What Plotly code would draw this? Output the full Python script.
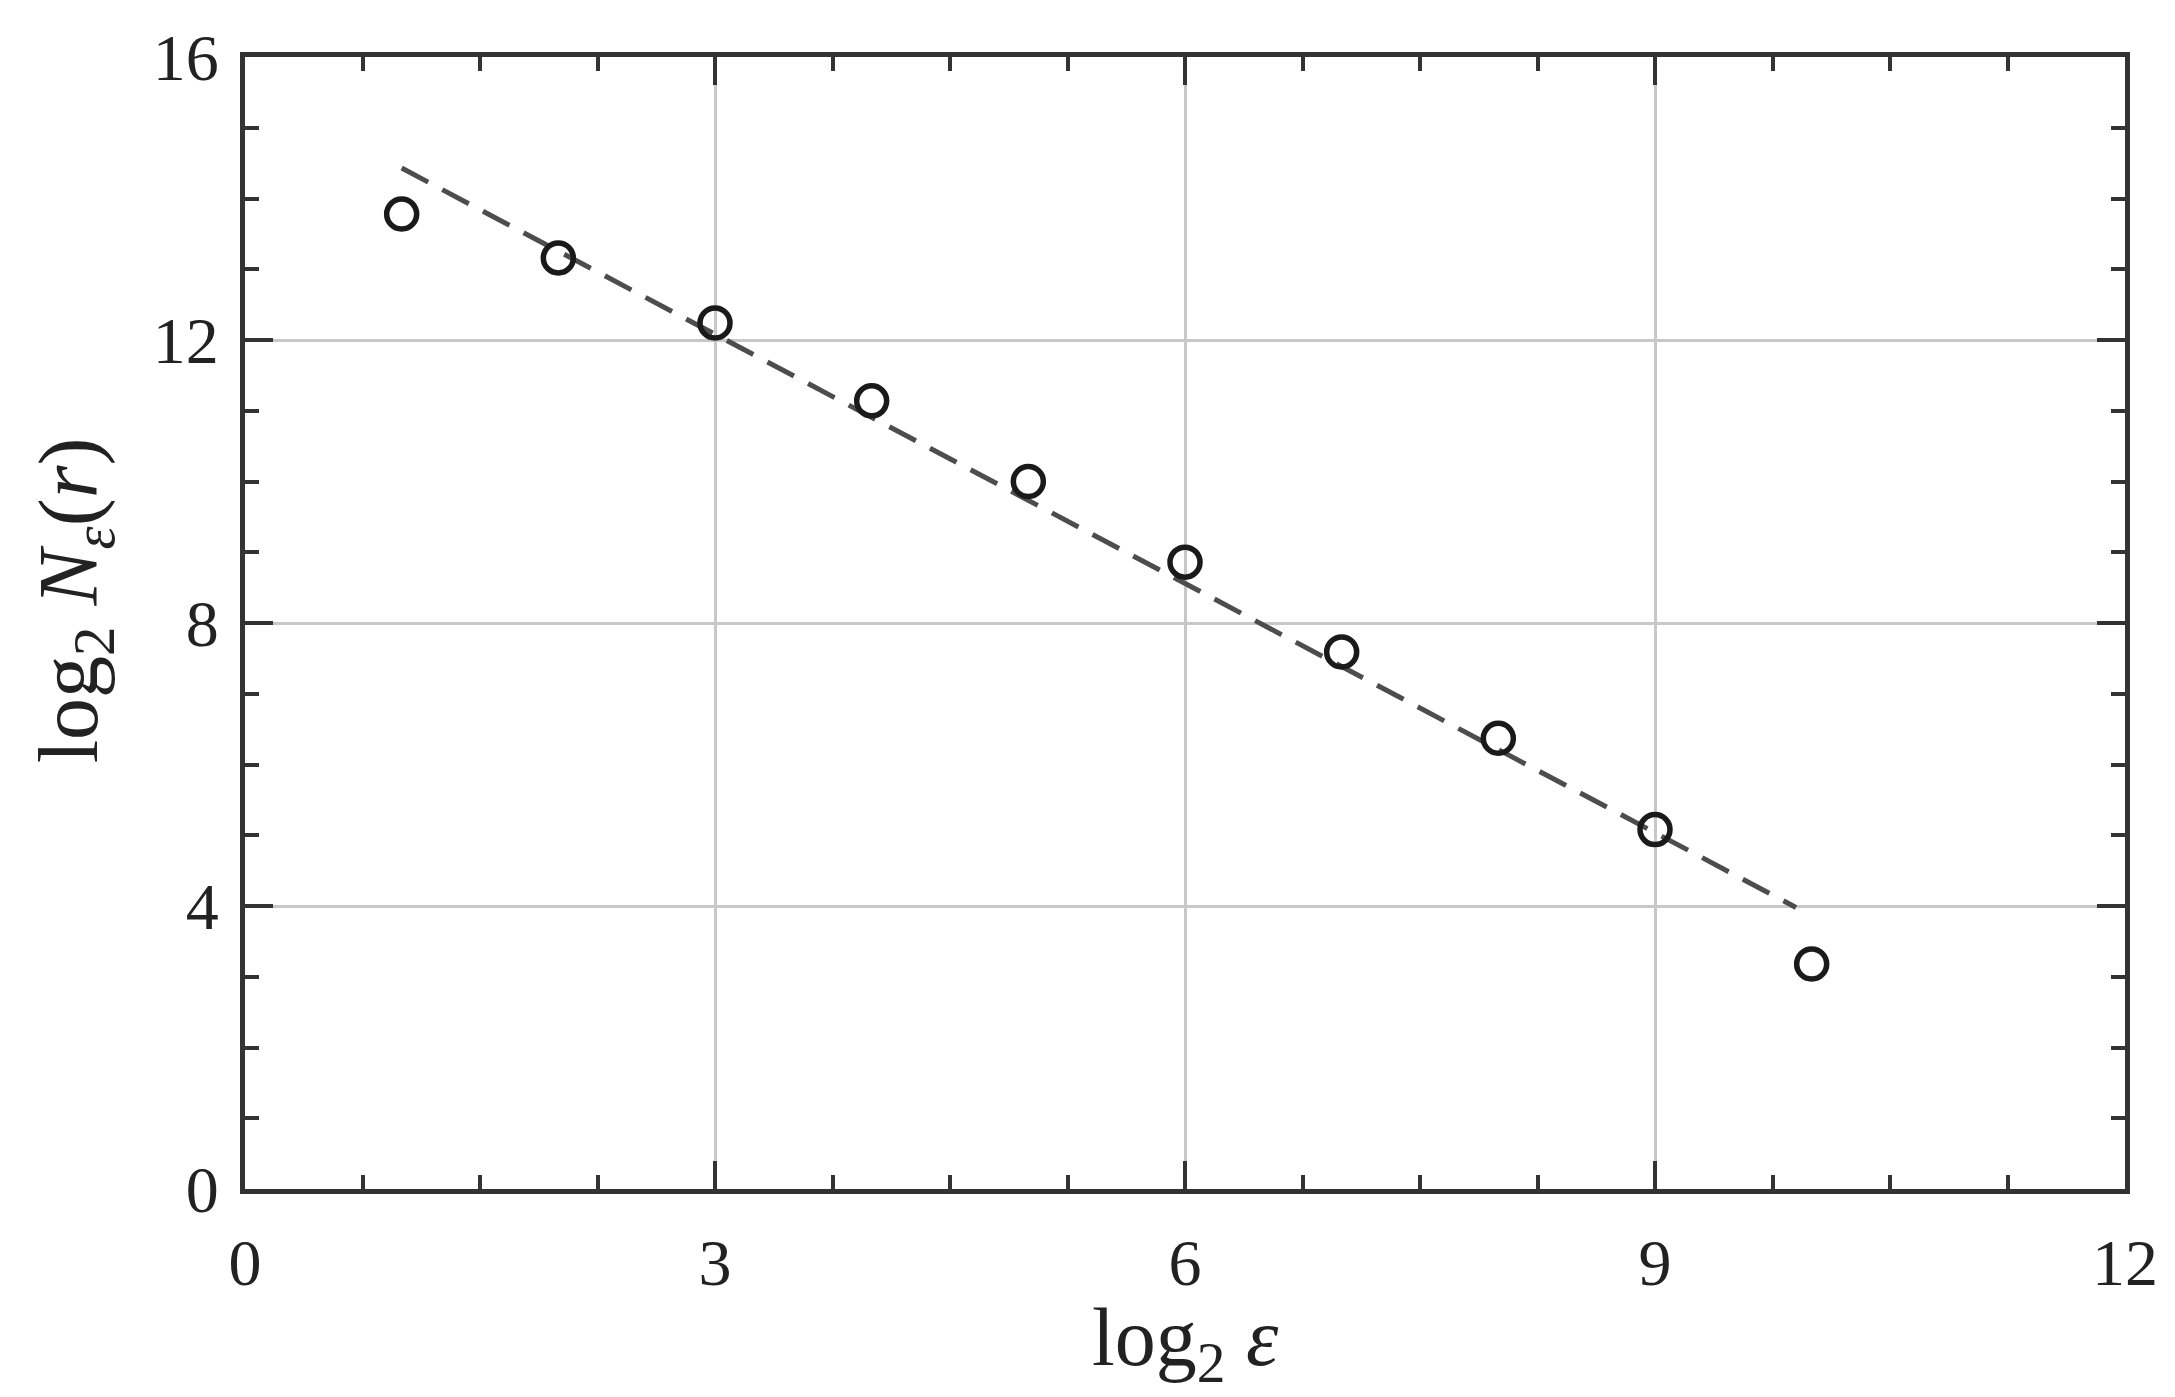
import plotly.graph_objects as go

# Data
log2_eps = [1, 2, 3, 4, 5, 6, 7, 8, 9, 10]
log2_N = [13.78, 13.16, 12.24, 11.14, 10.0, 8.86, 7.59, 6.37, 5.08, 3.18]
fit_x = [1.0, 9.9]
fit_y = [14.43, 3.98]

x_ticks = [0, 3, 6, 9, 12]
y_ticks = [0, 4, 8, 12, 16]

x_title = "log<sub>2</sub> <i>ε</i>"
y_title = "log<sub>2</sub> <i>N</i><sub><i>ε</i></sub>(<i>r</i>)"

FONT = "Liberation Serif"

fig = go.Figure()
fig.add_trace(go.Scatter(
    x=fit_x, y=fit_y, mode="lines",
    line=dict(color="#4d4d4d", width=5, dash="30px,16px"),
    showlegend=False, hoverinfo="skip"))
fig.add_trace(go.Scatter(
    x=log2_eps, y=log2_N, mode="markers",
    marker=dict(symbol="circle-open", size=30, color="#1a1a1a", line=dict(width=5.5, color="#1a1a1a")),
    showlegend=False))

axis_common = dict(
    showline=True, linecolor="#333333", linewidth=5, mirror="allticks",
    ticks="inside", ticklen=28, tickwidth=3.5, tickcolor="#333333",
    showgrid=True, gridcolor="#c8c8c8", gridwidth=3,
    zeroline=False, automargin=False,
    tickfont=dict(family=FONT, size=66, color="#222222"),
)

fig.update_xaxes(
    range=[0, 12], tickvals=x_ticks, ticktext=[str(v) for v in x_ticks],
    minor=dict(dtick=0.75, tick0=0, ticks="inside", ticklen=14, tickwidth=3.5, tickcolor="#333333", showgrid=False),
    ticklabelstandoff=12,
    **axis_common)
fig.update_yaxes(
    range=[0, 16], tickvals=y_ticks, ticktext=[str(v) for v in y_ticks],
    minor=dict(dtick=1, tick0=0, ticks="inside", ticklen=14, tickwidth=3.5, tickcolor="#333333", showgrid=False),
    ticklabelstandoff=8,
    **axis_common)

fig.add_annotation(
    text=x_title, xref="paper", yref="paper", x=0.5, y=-0.136,
    xanchor="center", yanchor="middle", showarrow=False,
    font=dict(family=FONT, size=82, color="#222222"))
fig.add_annotation(
    text=y_title, xref="paper", yref="paper", x=-0.0905, y=0.52,
    xanchor="center", yanchor="middle", showarrow=False, textangle=-90,
    font=dict(family=FONT, size=84, color="#222222"))

fig.update_layout(
    width=2175, height=1397,
    margin=dict(l=237, r=58, t=49, b=216),
    paper_bgcolor="white", plot_bgcolor="white",
)

fig.write_html("out.html")
